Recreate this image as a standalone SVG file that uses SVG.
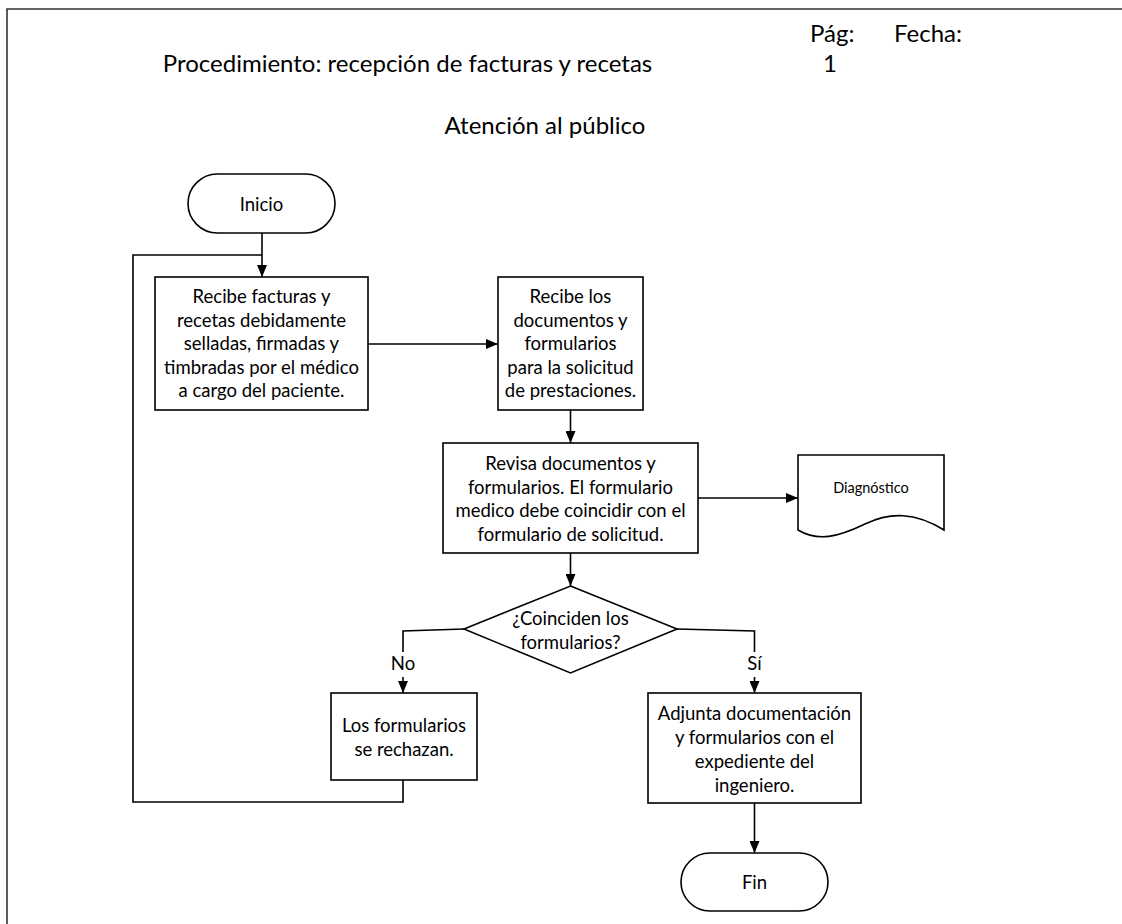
<svg xmlns="http://www.w3.org/2000/svg" width="1122" height="924" viewBox="0 0 1122 924">
  <style>
    .shape { fill: #ffffff; stroke: #000000; stroke-width: 1.6; }
    .conn { fill: none; stroke: #000000; stroke-width: 1.6; }
    .frame { fill: none; stroke: #333333; stroke-width: 1.6; }
    text { font-family: Lato, "Liberation Sans", sans-serif; fill: #000000; }
    .body { font-size: 18.5px; text-anchor: middle; }
    .head { font-size: 24px; }
    .small { font-size: 14.5px; text-anchor: middle; }
  </style>
  <defs>
    <marker id="arrow" markerUnits="userSpaceOnUse" markerWidth="12" markerHeight="10" refX="12" refY="5" orient="auto">
      <path d="M0,0 L12,5 L0,10 z" fill="#000000"/>
    </marker>
  </defs>

  <rect width="1122" height="924" fill="#ffffff"/>

  <!-- page frame -->
  <path class="frame" d="M7,924 V9 H1122"/>

  <!-- header -->
  <g id="header">
    <text class="head" x="407.5" y="72" text-anchor="middle">Procedimiento: recepción de facturas y recetas</text>
    <text class="head" x="810" y="42">Pág:</text>
    <text class="head" x="894" y="42">Fecha:</text>
    <text class="head" x="830" y="72" text-anchor="middle">1</text>
    <text class="head" x="545" y="134" text-anchor="middle">Atención al público</text>
  </g>

  <!-- connectors -->
  <g id="connectors">
    <path class="conn" d="M262,233 V277" marker-end="url(#arrow)"/>
    <path class="conn" d="M403,780 V802 H133 V255 H262"/>
    <path class="conn" d="M368,344 H498" marker-end="url(#arrow)"/>
    <path class="conn" d="M570.5,410 V443" marker-end="url(#arrow)"/>
    <path class="conn" d="M698,498 H798" marker-end="url(#arrow)"/>
    <path class="conn" d="M570.5,553 V586" marker-end="url(#arrow)"/>
    <path class="conn" d="M464,629 L403,631 V652"/>
    <path class="conn" d="M403,677 V693" marker-end="url(#arrow)"/>
    <path class="conn" d="M677,629 L754.5,631 V652"/>
    <path class="conn" d="M754.5,677 V693" marker-end="url(#arrow)"/>
    <path class="conn" d="M754.5,803 V853" marker-end="url(#arrow)"/>
    <text class="body" x="403" y="670">No</text>
    <text class="body" x="754.5" y="670">Sí</text>
  </g>

  <g id="inicio">
    <rect class="shape" x="188" y="174" width="147" height="59" rx="29.5" ry="29.5"/>
    <text class="body" x="261.5" y="211">Inicio</text>
  </g>

  <g id="recibe-facturas">
    <rect class="shape" x="155" y="277" width="213" height="133"/>
    <text class="body" x="261.5" y="303">Recibe facturas y</text>
    <text class="body" x="261.5" y="326.5">recetas debidamente</text>
    <text class="body" x="261.5" y="350">selladas, firmadas y</text>
    <text class="body" x="261.5" y="373.5">timbradas por el médico</text>
    <text class="body" x="261.5" y="397">a cargo del paciente.</text>
  </g>

  <g id="recibe-documentos">
    <rect class="shape" x="498" y="277" width="145" height="133"/>
    <text class="body" x="570.5" y="303">Recibe los</text>
    <text class="body" x="570.5" y="326.5">documentos y</text>
    <text class="body" x="570.5" y="350">formularios</text>
    <text class="body" x="570.5" y="373.5">para la solicitud</text>
    <text class="body" x="570.5" y="397">de prestaciones.</text>
  </g>

  <g id="revisa">
    <rect class="shape" x="443" y="443" width="255" height="110"/>
    <text class="body" x="570.5" y="470">Revisa documentos y</text>
    <text class="body" x="570.5" y="493.5">formularios. El formulario</text>
    <text class="body" x="570.5" y="517">medico debe coincidir con el</text>
    <text class="body" x="570.5" y="540.5">formulario de solicitud.</text>
  </g>

  <g id="diagnostico">
    <path class="shape" d="M798,455 H944 V530 C915,512 890,512 865,524 C838,537 818,542 798,530 Z"/>
    <text class="small" x="871" y="493">Diagnóstico</text>
  </g>

  <g id="decision">
    <path class="shape" d="M570.5,586 L677,629 L570.5,673 L464,629 Z"/>
    <text class="body" x="570.5" y="625">¿Coinciden los</text>
    <text class="body" x="570.5" y="649">formularios?</text>
  </g>

  <g id="rechazo">
    <rect class="shape" x="331" y="693" width="146" height="87"/>
    <text class="body" x="404" y="732">Los formularios</text>
    <text class="body" x="404" y="756">se rechazan.</text>
  </g>

  <g id="adjunta">
    <rect class="shape" x="648" y="693" width="213" height="110"/>
    <text class="body" x="754.5" y="720">Adjunta documentación</text>
    <text class="body" x="754.5" y="744">y formularios con el</text>
    <text class="body" x="754.5" y="768">expediente del</text>
    <text class="body" x="754.5" y="792">ingeniero.</text>
  </g>

  <g id="fin">
    <rect class="shape" x="681" y="853" width="147" height="58" rx="29" ry="29"/>
    <text class="body" x="754.5" y="889">Fin</text>
  </g>
</svg>
